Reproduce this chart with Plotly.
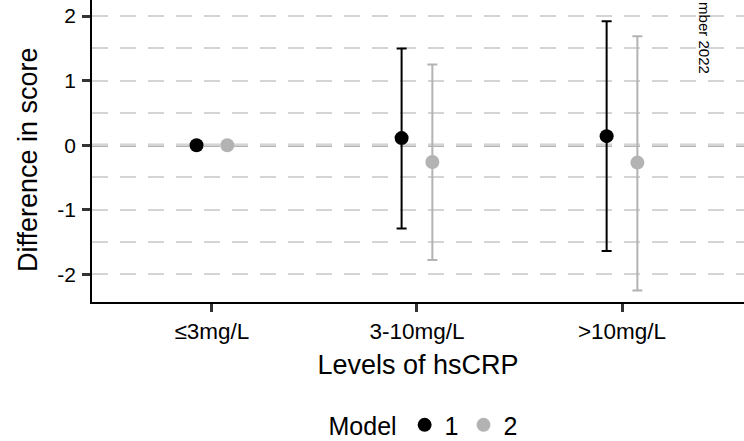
import plotly.graph_objects as go

categories = ["≤3mg/L", "3-10mg/L", ">10mg/L"]
models = ["1", "2"]
y_ticks = [-2, -1, 0, 1, 2]
y_tick_labels = ["-2", "-1", "0", "1", "2"]
estimate_m1 = [0.0, 0.11, 0.14]
lower_m1 = [0.0, -1.29, -1.64]
upper_m1 = [0.0, 1.50, 1.92]
estimate_m2 = [0.0, -0.26, -0.27]
lower_m2 = [0.0, -1.78, -2.25]
upper_m2 = [0.0, 1.25, 1.69]

colors = ["#000000", "#b3b3b3"]
dodge = [-0.075, 0.075]
FONT = "Liberation Sans, Arial, sans-serif"

fig = go.Figure()
series = [(estimate_m1, lower_m1, upper_m1), (estimate_m2, lower_m2, upper_m2)]
for k, (est, lo, up) in enumerate(series):
    xs = [i + 1 + dodge[k] for i in range(len(categories))]
    fig.add_trace(go.Scatter(
        x=xs, y=est, mode="markers", name=models[k],
        marker=dict(color=colors[k], size=14),
        error_y=dict(type="data", symmetric=False,
                     array=[u - e for u, e in zip(up, est)],
                     arrayminus=[e - l for e, l in zip(est, lo)],
                     color=colors[k], thickness=2, width=5),
    ))

fig.add_hline(y=0, line=dict(color="#9a9a9a", width=3, dash="16px,12px"), layer="below")

fig.add_annotation(text="mber 2022", xref="paper", yref="paper", x=0.94, y=1,
                   xanchor="center", yanchor="top", textangle=90, showarrow=False,
                   font=dict(family=FONT, size=15, color="black"))

fig.add_annotation(text="Difference in score", xref="paper", yref="paper",
                   x=(28 - 92) / 652, y=(302 - 160) / 302, xanchor="center", yanchor="middle",
                   textangle=-90, showarrow=False,
                   font=dict(family=FONT, size=27, color="black"))

fig.update_layout(
    width=744, height=441,
    margin=dict(l=92, r=0, t=0, b=139, autoexpand=False),
    paper_bgcolor="white", plot_bgcolor="white",
    font=dict(family=FONT, color="black"),
    showlegend=True,
    legend=dict(orientation="h", x=0.51, xanchor="center", yref="container", y=0.036,
                yanchor="middle",
                title=dict(text="Model", font=dict(size=25)),
                font=dict(size=25), itemwidth=30, tracegroupgap=0),
    xaxis=dict(range=[0.415, 3.595], tickvals=[1, 2, 3], ticktext=categories,
               automargin=False,
               showgrid=False, zeroline=False, showline=True, linecolor="black", linewidth=1.5,
               ticks="outside", ticklen=8, tickwidth=2.5, tickcolor="#333333",
               tickfont=dict(size=22.5, color="black"),
               title=dict(text="Levels of hsCRP", font=dict(size=27), standoff=12)),
    yaxis=dict(range=[-2.43, 2.25], tickvals=y_ticks, ticktext=y_tick_labels,
               automargin=False,
               showgrid=True, gridcolor="#d4d4d4", gridwidth=1.5, griddash="16px,12px",
               minor=dict(dtick=0.5, tick0=0, showgrid=True, gridcolor="#d4d4d4", gridwidth=1.5,
                          griddash="16px,12px", ticks=""),
               zeroline=False, showline=True, linecolor="black", linewidth=1.5,
               ticks="outside", ticklen=8, tickwidth=2.5, tickcolor="#333333",
               tickfont=dict(size=21, color="black"), ticklabelstandoff=2),
)

fig.write_html("out.html", config={"displayModeBar": False},
               post_script="document.body.style.margin='0';")
